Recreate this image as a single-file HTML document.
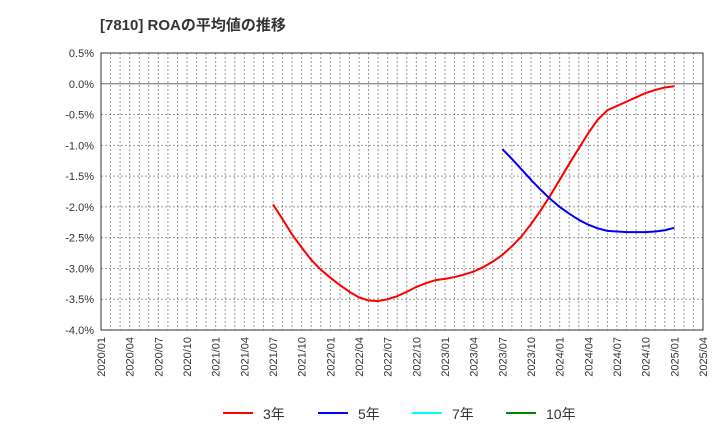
<!DOCTYPE html>
<html><head><meta charset="utf-8"><style>
body{margin:0;background:#fff;font-family:"Liberation Sans","Noto Sans CJK JP",sans-serif}
svg text{font-family:"Liberation Sans","Noto Sans CJK JP",sans-serif}
</style></head><body>
<svg id="c" width="720" height="440" xmlns="http://www.w3.org/2000/svg">
<text x="100" y="30" font-size="15" font-weight="bold" fill="#333">[7810]  ROAの平均値の推移</text>
<g id="grid"></g><g id="axes"></g><g id="series"></g>
<g>
<g><line x1="223" y1="413" x2="253" y2="413" stroke="#f00" stroke-width="2"/><text x="263" y="419" font-size="14" fill="#333">3年</text></g>
<g><line x1="318" y1="413" x2="348" y2="413" stroke="#00f" stroke-width="2"/><text x="358" y="419" font-size="14" fill="#333">5年</text></g>
<g><line x1="412" y1="413" x2="442" y2="413" stroke="#0ff" stroke-width="2"/><text x="452" y="419" font-size="14" fill="#333">7年</text></g>
<g><line x1="506" y1="413" x2="536" y2="413" stroke="#080" stroke-width="2"/><text x="546" y="419" font-size="14" fill="#333">10年</text></g>
</g>
</svg>
<script>
const yTicks=[0.5,0,-0.5,-1,-1.5,-2,-2.5,-3,-3.5,-4];
const xLabels=["2020/01","2020/04","2020/07","2020/10","2021/01","2021/04","2021/07","2021/10","2022/01","2022/04","2022/07","2022/10","2023/01","2023/04","2023/07","2023/10","2024/01","2024/04","2024/07","2024/10","2025/01","2025/04"];
const red3Start=18;
const red3=[-1.96,-2.2,-2.45,-2.66,-2.86,-3.02,-3.15,-3.27,-3.38,-3.47,-3.52,-3.53,-3.50,-3.45,-3.38,-3.30,-3.24,-3.19,-3.17,-3.14,-3.10,-3.05,-2.98,-2.89,-2.78,-2.64,-2.48,-2.28,-2.06,-1.82,-1.56,-1.30,-1.05,-0.80,-0.58,-0.43,-0.36,-0.29,-0.22,-0.15,-0.10,-0.06,-0.04];
const blue5Start=42;
const blue5=[-1.06,-1.22,-1.39,-1.56,-1.72,-1.87,-2.0,-2.11,-2.21,-2.29,-2.35,-2.39,-2.40,-2.41,-2.41,-2.41,-2.40,-2.38,-2.34];
const X0=101,X1=703,Y0=53,Y1=330,months=63;
const xs=m=>X0+(X1-X0)*m/months;
const ys=v=>Y0+(0.5-v)/4.5*(Y1-Y0);
const NS="http://www.w3.org/2000/svg";
function mk(t,a,p){const e=document.createElementNS(NS,t);for(const k in a)e.setAttribute(k,a[k]);p.appendChild(e);return e;}
const g=document.getElementById('grid'),ax=document.getElementById('axes'),s=document.getElementById('series');
for(let m=1;m<months;m++){const l=mk('line',{x1:xs(m),x2:xs(m),y1:Y0,y2:Y1,stroke:'#999','stroke-dasharray':'2,2','stroke-width':1},g);

}
yTicks.forEach(v=>{const y=ys(v);
const l=mk('line',{x1:X0,x2:X1,y1:y,y2:y,stroke:v===0?'#666':'#999','stroke-dasharray':v===0?'':'2,2','stroke-width':1},g);


const t=mk('text',{x:X0-7,y:y+4,'text-anchor':'end','font-size':11,fill:'#333'},ax);t.textContent=v.toFixed(1)+'%';

});
xLabels.forEach((lab,i)=>{const x=xs(i*3);const t=mk('text',{x:x+4,y:337,'text-anchor':'end','font-size':11,fill:'#333',transform:`rotate(-90 ${x+4} 337)`},ax);t.textContent=lab;

});
const r=mk('rect',{x:X0,y:Y0,width:X1-X0,height:Y1-Y0,fill:'none',stroke:'#333','stroke-width':1},ax);


function line(d,st,c,n){const p=mk('polyline',{points:d.map((v,i)=>xs(st+i)+','+ys(v)).join(' '),fill:'none',stroke:c,'stroke-width':2,'stroke-linejoin':'round'},s);

}
line(red3,red3Start,'#f00','series-3y');
line(blue5,blue5Start,'#00f','series-5y');
</script>
</body></html>
